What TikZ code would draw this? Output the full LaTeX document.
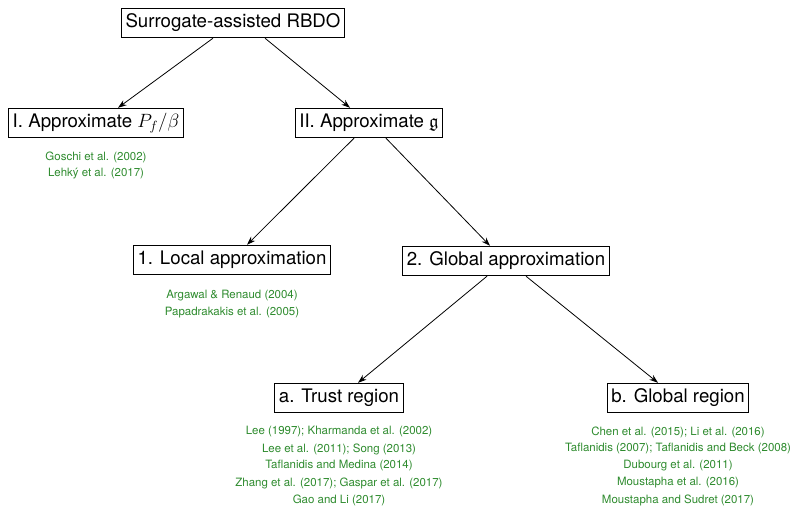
\documentclass[tikz,border=0pt]{standalone}
\usepackage{amsmath}
\usepackage{amssymb}
\usepackage{fontspec}
\setmainfont{TeX Gyre Heros}
\usepackage{tikz}
\usetikzlibrary{arrows.meta,calc}
\definecolor{refgreen}{RGB}{46,139,46}

\begin{document}
\begin{tikzpicture}[x=0.75pt,y=-0.75pt]
\tikzset{
  box/.style={draw=black,line width=0.8pt,fill=white,inner xsep=3pt,inner ysep=0pt,
    minimum height=22pt,font=\fontsize{14}{16}\selectfont},
  refline/.style={text=refgreen,inner sep=0pt,font=\fontsize{8.6}{10}\selectfont},
  link/.style={line width=0.6pt,-{Stealth[length=6.5pt,width=4.5pt]}}
}
\useasboundingbox (0,0) rectangle (791,507);
% the tree of boxes
\node [box] (root) at (233,23) {Surrogate-assisted RBDO};
\node [box] (pf) at (96,123) {I. Approximate $P_f/\beta$};
\node [box] (lim) at (369,123) {II. Approximate $\mathfrak{g}$};
\node [box] (local) at (232,260) {1. Local approximation};
\node [box] (global) at (506,261) {2. Global approximation};
\node [box] (trust) at (339,398) {a. Trust region};
\node [box] (whole) at (678,398) {b. Global region};
\draw [link] ($(root.south)+(-20,0)$) -- ($(pf.north)+(22,0)$);
\draw [link] ($(root.south)+(32,0)$) -- ($(lim.north)+(-19,0)$);
\draw [link] ($(lim.south)+(-15,0)$) -- ($(local.north)+(15,0)$);
\draw [link] ($(lim.south)+(17,0)$) -- ($(global.north)+(-16,0)$);
\draw [link] ($(global.south)+(-19,0)$) -- ($(trust.north)+(19,0)$);
\draw [link] ($(global.south)+(20,0)$) -- ($(whole.north)+(-20,0)$);
% references under the boxes
\foreach \txt [count=\i] in {Goschi et al. (2002), Lehk\'y et al. (2017)}
  \node [refline] (refpf-\i) at (96,{140+17*\i}) {\txt};
\foreach \txt [count=\i] in {Argawal \& Renaud (2004), Papadrakakis et al. (2005)}
  \node [refline] (reflocal-\i) at (232,{279+17*\i}) {\txt};
\foreach \txt [count=\i] in {Lee (1997); Kharmanda et al. (2002), Lee et al. (2011); Song (2013),
    Taflanidis and Medina (2014), Zhang et al. (2017); Gaspar et al. (2017), Gao and Li (2017)}
  \node [refline] (reftrust-\i) at (339,{415+17*\i}) {\txt};
\foreach \txt [count=\i] in {Chen et al. (2015); Li et al. (2016), Taflanidis (2007); Taflanidis and Beck (2008),
    Dubourg et al. (2011), Moustapha et al. (2016), Moustapha and Sudret (2017)}
  \node [refline] (refwhole-\i) at (678,{415+17*\i}) {\txt};
\end{tikzpicture}
\end{document}
